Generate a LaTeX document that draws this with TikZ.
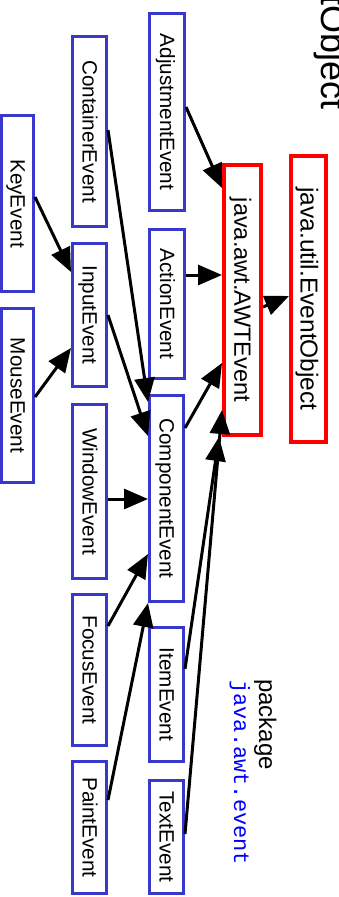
\documentclass[tikz,border=0pt]{standalone}
\usepackage{fontspec}
\setmainfont{Liberation Sans}
\setmonofont{Liberation Mono}
\usetikzlibrary{arrows.meta,calc}
\definecolor{boxblue}{RGB}{56,56,204}
\definecolor{boxred}{RGB}{255,0,0}
\definecolor{pkgblue}{RGB}{0,0,255}
\newcommand\bluelbl[1]{\rotatebox{-90}{\fontsize{20.7}{24}\selectfont\rule[-4pt]{0pt}{22pt}#1}}
\newcommand\redlbl[2]{\rotatebox{-90}{\fontsize{#1}{28}\selectfont\rule[-4pt]{0pt}{25pt}#2}}
\begin{document}
\begin{tikzpicture}[x=1pt,y=-1pt,
  bbox/.style={draw=boxblue,line width=3.2pt,inner sep=0pt},
  rbox/.style={draw=boxred,line width=3.6pt,inner sep=0pt},
  arr/.style={-{Triangle[length=24pt,width=20pt]},line width=3pt,black},
  plainlbl/.style={rotate=-90,inner sep=0pt}]
\useasboundingbox (0,0) rectangle (338,897);
\fill[white] (0,0) rectangle (338,897);

\node[bbox,minimum width=34.8pt,minimum height=196.8pt] (adj) at (167,112) {\bluelbl{AdjustmentEvent}};
\node[bbox,minimum width=33.8pt,minimum height=189.8pt] (cont) at (89.5,131.5) {\bluelbl{ContainerEvent}};
\node[bbox,minimum width=31.8pt,minimum height=175.8pt] (key) at (17.5,203.5) {\bluelbl{KeyEvent}};
\node[bbox,minimum width=33.8pt,minimum height=142.8pt] (input) at (89.5,315) {\bluelbl{InputEvent}};
\node[bbox,minimum width=31.8pt,minimum height=173.8pt] (mouse) at (17.5,395.5) {\bluelbl{MouseEvent}};
\node[bbox,minimum width=34.8pt,minimum height=148.8pt] (action) at (167,304) {\bluelbl{ActionEvent}};
\node[bbox,minimum width=33.8pt,minimum height=173.8pt] (window) at (89.5,491.5) {\bluelbl{WindowEvent}};
\node[bbox,minimum width=33.8pt,minimum height=205.8pt] (comp) at (166.5,498.5) {\bluelbl{ComponentEvent}};
\node[bbox,minimum width=33.8pt,minimum height=150.8pt] (focus) at (89.5,670) {\bluelbl{FocusEvent}};
\node[bbox,minimum width=33.8pt,minimum height=131.8pt] (paint) at (89.5,827.5) {\bluelbl{PaintEvent}};
\node[bbox,minimum width=33.8pt,minimum height=133.8pt] (item) at (166.5,694.5) {\bluelbl{ItemEvent}};
\node[bbox,minimum width=33.8pt,minimum height=112.8pt] (textev) at (166.5,837) {\bluelbl{TextEvent}};
\node[rbox,minimum width=37.4pt,minimum height=270.4pt] (awt) at (242.5,300) {\redlbl{23.5}{java.awt.AWTEvent}};
\node[rbox,minimum width=35.4pt,minimum height=286.4pt] (evobj) at (308.5,299) {\redlbl{24.5}{java.util.EventObject}};

\node[plainlbl,anchor=base west,font=\fontsize{24}{28}\selectfont] (pkg) at (259,679) {package};
\node[plainlbl,anchor=base west,text=pkgblue,font=\ttfamily\fontsize{22}{26}\selectfont] (pkgname) at (234,680) {java.awt.event};
\node[plainlbl,anchor=base east,font=\fontsize{36}{40}\selectfont] (frag) at (321,110) {tObject};

\draw[arr] ($(adj.east)+(0,-5)$) -- ($(awt.west)+(0,-112)$);
\draw[arr] ($(action.east)+(0,-29)$) -- ($(awt.west)+(0,-25)$);
\draw[arr] ($(awt.east)+(0,7)$) -- ($(evobj.west)+(0,-3)$);
\draw[arr] ($(cont.east)+(0,-1.5)$) -- ($(comp.west)+(0,-96.5)$);
\draw[arr] (input.east) -- ($(comp.west)+(0,-62.5)$);
\draw[arr] ($(key.east)+(0,-6.5)$) -- ($(input.west)+(0,-43)$);
\draw[arr] ($(mouse.east)+(0,1.5)$) -- ($(input.west)+(0,33)$);
\draw[arr] ($(window.east)+(0,7.5)$) -- ($(comp.west)+(0,0.5)$);
\draw[arr] ($(focus.east)+(0,-44)$) -- ($(comp.west)+(0,55.5)$);
\draw[arr] ($(paint.east)+(0,-27.5)$) -- (comp.south west);
\draw[arr] ($(comp.east)+(0,-70.5)$) -- ($(awt.west)+(0,63)$);
\draw[arr] ($(item.east)+(0,-25.5)$) -- ($(awt.south west)+(-3,0)$);
\draw[arr] ($(textev.east)+(0,-3)$) -- ($(awt.west)+(0,110)$);
\end{tikzpicture}
\end{document}
